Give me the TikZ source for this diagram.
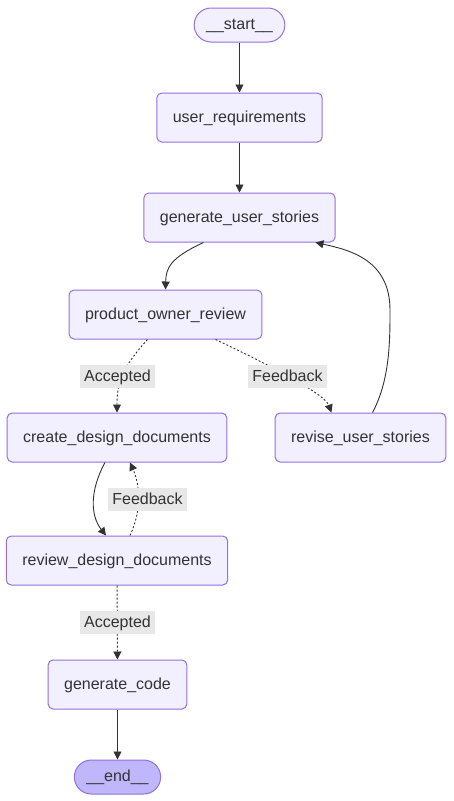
\documentclass[tikz,border=0pt]{standalone}
\usepackage{fontspec}
\setmainfont{Liberation Sans}
\usetikzlibrary{arrows.meta,positioning}
\usetikzlibrary{calc}
\definecolor{nodefill}{HTML}{F2F0FF}
\definecolor{nodeline}{HTML}{9370DB}
\definecolor{endfill}{HTML}{BFB6FC}
\definecolor{ink}{HTML}{333333}
\definecolor{labelbg}{HTML}{E8E8E8}
\tikzset{
stage/.style={
  rectangle, rounded corners=5pt, draw=nodeline, fill=nodefill,
  line width=1pt, text=ink, minimum height=49pt, inner xsep=16pt,
  text height=12pt, text depth=3pt,
  font=\fontsize{16}{19}\selectfont
  },
terminal/.style={
  stage, rounded corners=17pt, minimum height=34pt, inner xsep=12pt
  },
cond/.style={
  rectangle, fill=labelbg, text=ink, inner xsep=4pt, inner ysep=0pt,
  minimum height=23pt, text height=12pt, text depth=3pt,
  font=\fontsize{16}{19}\selectfont
  },
flow/.style={draw=ink, line width=0.9pt, -{Triangle[length=8pt,width=8pt]}},
maybe/.style={flow, dash pattern=on 2pt off 2pt}
}
\begin{document}
\begin{tikzpicture}[x=1pt,y=1pt]
\useasboundingbox[fill=white] (0,0) rectangle (453,-801);

% main line
\node[terminal](start) at (239.5,-25){\_\_start\_\_};
\node[stage, below=50pt of start](ureq){user\_requirements};
\node[stage, below=50pt of ureq](gus){generate\_user\_stories};
\node[stage](por) at (165.5,-314.5){product\_owner\_review};

% branches
\node[stage](cdd) at (117,-437.5){create\_design\_documents};
\node[stage](rus) at (360.5,-437.5){revise\_user\_stories};
\node[stage](rdd) at (117,-560.5){review\_design\_documents};
\node[stage](gc) at (117.5,-684.5){generate\_code};
\node[terminal, fill=endfill, below=50pt of gc](end){\_\_end\_\_};

% edges
\draw[flow] (start) -- (ureq);
\draw[flow] (ureq) -- (gus);
\draw[flow] ([xshift=-36pt]gus.south) .. controls (170,-258) and (166,-268) .. (por.north);
\draw[maybe] ([xshift=-18pt]por.south) .. controls (120,-370) and (117,-385) .. (cdd.north);
\draw[maybe] ([xshift=50pt]por.south) .. controls (280,-370) and (325,-395) .. ([xshift=-29pt]rus.north);
\draw[flow] ([xshift=12pt]rus.north) .. controls (390,-380) and (390,-340) .. (390,-310)
  .. controls (390,-260) and (350,-250) .. ([xshift=76pt]gus.south);
\draw[flow] ([xshift=-12pt]cdd.south) .. controls (90,-490) and (90,-515) .. ([xshift=-11pt]rdd.north);
\draw[maybe] ([xshift=13pt]rdd.north) .. controls (142,-510) and (140,-485) .. ([xshift=13pt]cdd.south);
\draw[maybe] (rdd) -- (gc);
\draw[flow] (gc) -- (end);

% labels
\node[cond](acc1) at (117.5,-376.5){Accepted};
\node[cond](fb1) at (287.5,-376.5){Feedback};
\node[cond](fb2) at (147.5,-499.5){Feedback};
\node[cond](acc2) at (117.5,-622.5){Accepted};

\end{tikzpicture}
\end{document}
